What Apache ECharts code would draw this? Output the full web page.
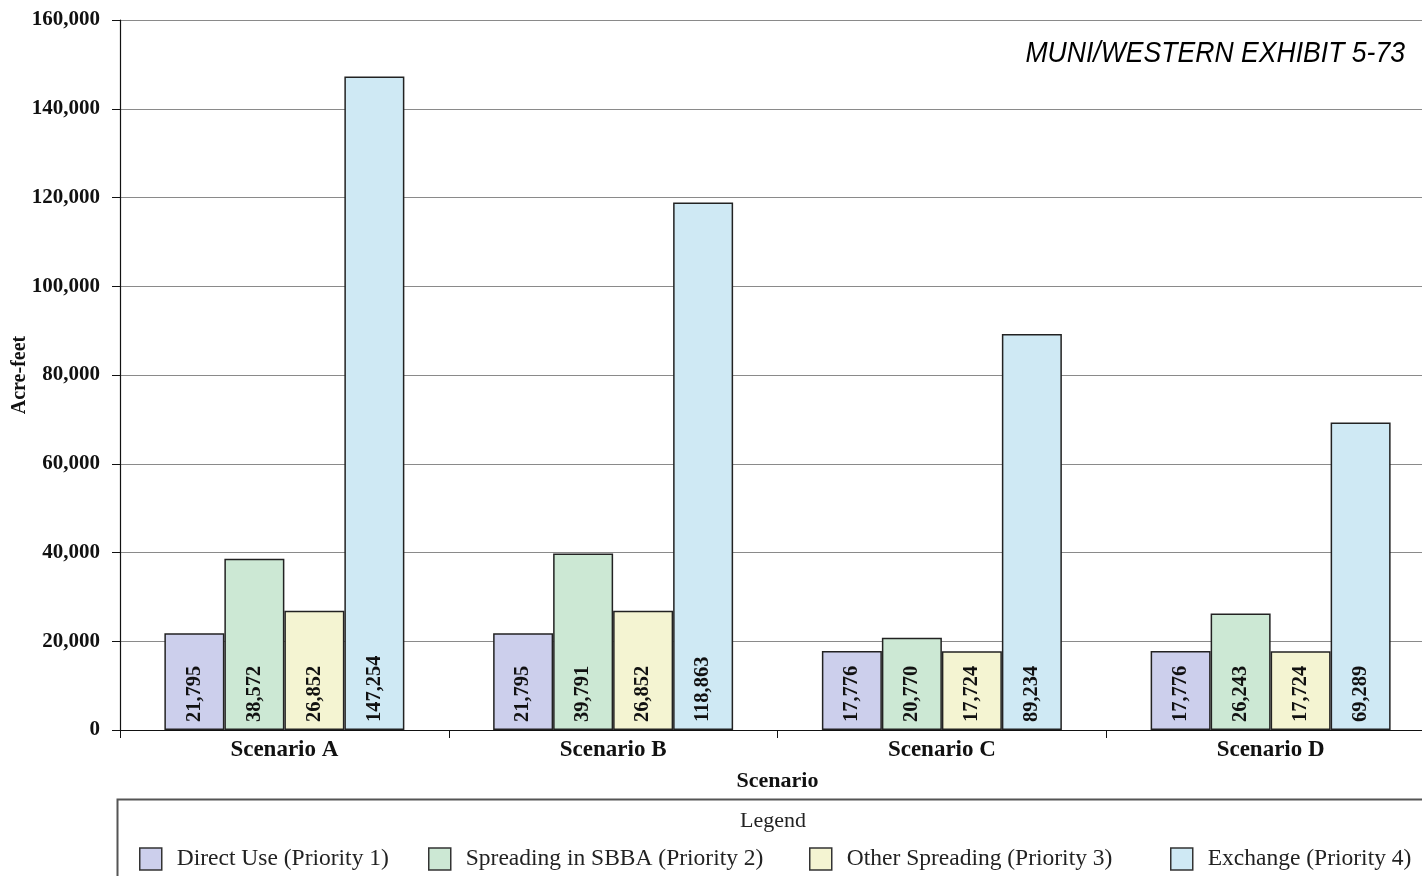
<!DOCTYPE html>
<html>
<head>
<meta charset="utf-8">
<script src="https://cdn.jsdelivr.net/npm/echarts@6/dist/echarts.min.js"></script>
<style>html,body{margin:0;padding:0;background:#fff}#c{width:1422px;height:876px}</style>
</head>
<body>
<div id="c"></div>
<script>
const categories = ['Scenario A', 'Scenario B', 'Scenario C', 'Scenario D'];
const seriesNames = ['Direct Use (Priority 1)', 'Spreading in SBBA (Priority 2)', 'Other Spreading (Priority 3)', 'Exchange (Priority 4)'];
const directUse = [21795, 21795, 17776, 17776];
const spreadingSBBA = [38572, 39791, 20770, 26243];
const otherSpreading = [26852, 26852, 17724, 17724];
const exchange = [147254, 118863, 89234, 69289];
const yTicks = [0, 20000, 40000, 60000, 80000, 100000, 120000, 140000, 160000];

const colors = ['#cccfec', '#cce8d4', '#f4f4d2', '#cfe9f4'];
const allData = [directUse, spreadingSBBA, otherSpreading, exchange];
const serif = 'Liberation Serif';
const legendX = [139, 428, 809, 1170];

const chart = echarts.init(document.getElementById('c'), null, {renderer: 'canvas'});
const option = {
  animation: false,
  backgroundColor: '#fff',
  grid: {left: 120, top: 20, width: 1315, height: 710, containLabel: false, outerBoundsMode: 'none'},
  xAxis: {
    type: 'category',
    data: categories,
    name: 'Scenario',
    nameLocation: 'middle',
    nameGap: 40,
    nameMoveOverlap: false,
    nameTextStyle: {fontFamily: serif, fontWeight: 'bold', fontSize: 22, color: '#111'},
    axisLine: {lineStyle: {color: '#111', width: 1.2}},
    axisTick: {show: true, length: 8, lineStyle: {color: '#111'}},
    axisLabel: {fontFamily: serif, fontWeight: 'bold', fontSize: 23, color: '#111', margin: 9}
  },
  yAxis: {
    type: 'value',
    min: yTicks[0],
    max: yTicks[yTicks.length - 1],
    interval: yTicks[1] - yTicks[0],
    name: 'Acre-feet',
    nameLocation: 'middle',
    nameGap: 90,
    nameMoveOverlap: false,
    nameRotate: 90,
    nameTextStyle: {fontFamily: serif, fontWeight: 'bold', fontSize: 20, color: '#111'},
    axisLine: {show: true, lineStyle: {color: '#111', width: 1.2}},
    axisTick: {show: true, length: 8, lineStyle: {color: '#111'}},
    axisLabel: {fontFamily: serif, fontWeight: 'bold', fontSize: 21, color: '#111', margin: 20,
      formatter: v => v.toLocaleString('en-US')},
    splitLine: {show: true, lineStyle: {color: '#8a8a8a', width: 1.2}}
  },
  legend: seriesNames.map((n, i) => ({
    data: [n],
    left: legendX[i],
    top: 847,
    padding: 0,
    itemWidth: 22,
    itemHeight: 22,
    icon: 'rect',
    itemStyle: {borderColor: '#333', borderWidth: 1.5},
    textStyle: {fontFamily: serif, fontSize: 23.5, color: '#222', padding: [0, 0, 0, 10]}
  })),
  graphic: [
    {type: 'rect', left: 115, top: 797, shape: {width: 1330, height: 100},
      style: {fill: 'none', stroke: '#555', lineWidth: 2}, z: 0},
    {type: 'text', x: 773, y: 821, style: {text: 'Legend', fontFamily: serif, fontSize: 22, fill: '#222',
      textAlign: 'center', textVerticalAlign: 'middle'}},
    {type: 'text', x: 1405, y: 54, scaleX: 0.886, style: {text: 'MUNI/WESTERN EXHIBIT 5-73', fontFamily: 'Liberation Sans',
      fontStyle: 'italic', fontSize: 30, fill: '#000', textAlign: 'right', textVerticalAlign: 'middle'}}
  ],
  series: seriesNames.map((n, i) => ({
    name: n,
    type: 'bar',
    data: allData[i],
    barGap: '0%',
    barCategoryGap: '27%',
    itemStyle: {color: colors[i], borderColor: '#222', borderWidth: 1.5},
    label: {
      show: true,
      position: 'insideBottom',
      rotate: 90,
      align: 'left',
      verticalAlign: 'middle',
      distance: 8,
      fontFamily: serif,
      fontWeight: 'bold',
      fontSize: 20.5,
      color: '#111',
      formatter: p => p.value.toLocaleString('en-US')
    }
  }))
};
chart.setOption(option);
</script>
</body>
</html>
